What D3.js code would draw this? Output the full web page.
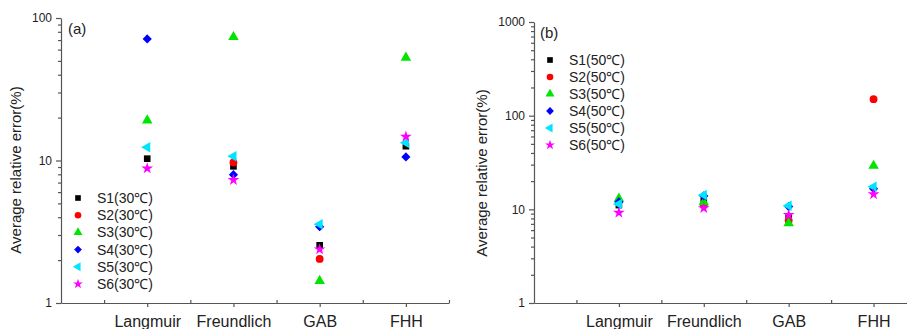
<!DOCTYPE html>
<html>
<head>
<meta charset="utf-8">
<script src="https://cdn.jsdelivr.net/npm/d3@7/dist/d3.min.js"></script>
<style>
  body { margin: 0; background: #fff; }
  svg text { font-family: "Liberation Sans", Arial, sans-serif; fill: #222; }
  .axis path, .axis line { stroke: #555; stroke-width: 1.2; }
</style>
</head>
<body>
<svg id="chart" width="907" height="329"></svg>
<script>
// ---------------- data ----------------
var categories = ["Langmuir", "Freundlich", "GAB", "FHH"];
var seriesNames = ["S1", "S2", "S3", "S4", "S5", "S6"];
var seriesColors = ["#000000", "#ff0000", "#00e600", "#0000ff", "#00e5ff", "#ff00ff"];

// panel (a), 30 C  (null = hidden under another marker)
var a_S1 = [10.3, 9.1, 2.54, 12.6];
var a_S2 = [null, 9.7, 2.04, null];
var a_S3 = [19.1, 73.6, 1.43, 52.7];
var a_S4 = [71.3, 7.95, 3.43, 10.6];
var a_S5 = [12.4, 10.7, 3.57, 13.3];
var a_S6 = [8.8, 7.3, 2.38, 14.7];

// panel (b), 50 C
var b_S1 = [11.1, 12.3, 8.2, null];
var b_S2 = [null, 11.1, 7.6, 150];
var b_S3 = [13.0, 11.9, 7.1, 29.2];
var b_S4 = [12.0, 13.9, 10.7, 16.6];
var b_S5 = [11.4, 14.2, 10.9, 17.4];
var b_S6 = [9.2, 10.3, 8.7, 14.5];

var svg = d3.select("#chart");

// marker shapes
var symSq = d3.symbol().type(d3.symbolSquare).size(44);
var symCi = d3.symbol().type(d3.symbolCircle).size(48);
var symTr = d3.symbol().type(d3.symbolTriangle).size(48);
var symDi = d3.symbol().type(d3.symbolSquare).size(42);   // rotated 45
var symSt = d3.symbol().type(d3.symbolStar).size(42);
var shapes = [
  {p: symSq(), rot: 0},
  {p: symCi(), rot: 0},
  {p: symTr(), rot: 0},
  {p: symDi(), rot: 45},
  {p: symTr(), rot: -90},
  {p: symSt(), rot: 0}
];

function drawPanel(opt) {
  var g = svg.append("g");
  var x = d3.scaleLinear().domain([0, 4.5]).range([opt.x0, opt.x1]);
  var y = d3.scaleLog().domain(opt.ydom).range([303, opt.ytop]);

  // minor y ticks
  var minor = [];
  for (var dec = opt.ydom[0]; dec < opt.ydom[1]; dec *= 10) {
    for (var k = 2; k <= 9; k++) minor.push(dec * k);
  }
  var majors = [];
  for (var m = opt.ydom[0]; m <= opt.ydom[1]; m *= 10) majors.push(m);

  g.append("g").attr("class", "axis")
    .attr("transform", "translate(" + opt.x0 + ",0)")
    .call(d3.axisLeft(y).tickValues(minor).tickSize(3).tickFormat(""))
    .select(".domain").remove();

  var ya = g.append("g").attr("class", "axis")
    .attr("transform", "translate(" + opt.x0 + ",0)")
    .call(d3.axisLeft(y).tickValues(majors).tickSize(5).tickSizeOuter(0).tickPadding(4)
      .tickFormat(d3.format("d")));
  ya.selectAll("text").attr("font-size", 12).style("fill", "#222");

  // x axis: minor ticks up, categories down
  g.append("g").attr("class", "axis")
    .attr("transform", "translate(0,303)")
    .call(d3.axisBottom(x).tickValues([0.5, 1.5, 2.5, 3.5, 4.5]).tickSize(-3).tickFormat(""))
    .select(".domain").remove();

  var xa = g.append("g").attr("class", "axis")
    .attr("transform", "translate(0,303)")
    .call(d3.axisBottom(x).tickValues([1, 2, 3, 4]).tickSize(4).tickSizeOuter(0)
      .tickFormat(function(d) { return categories[d - 1]; }));
  xa.selectAll("text").attr("font-size", 16).attr("y", 24).attr("dy", null).style("fill", "#222");

  // y title
  g.append("text")
    .attr("transform", "translate(" + opt.titleX + "," + opt.titleY + ") rotate(-90)")
    .attr("text-anchor", "middle")
    .attr("font-size", 15)
    .text("Average relative error(%)");

  // panel tag
  g.append("text").attr("x", opt.tagX).attr("y", opt.tagY)
    .attr("font-size", 15).text(opt.tag);

  // points
  opt.series.forEach(function(vals, si) {
    vals.forEach(function(v, ci) {
      if (v == null) return;
      g.append("path")
        .attr("d", shapes[si].p)
        .attr("transform", "translate(" + x(ci + 1) + "," + y(v) + ") rotate(" + shapes[si].rot + ")")
        .attr("fill", seriesColors[si]);
    });
  });

  // legend
  seriesNames.forEach(function(name, si) {
    var ly = opt.legY + si * opt.legStep;
    g.append("path")
      .attr("d", shapes[si].p)
      .attr("transform", "translate(" + opt.legX + "," + ly + ") rotate(" + shapes[si].rot + ") scale(0.85)")
      .attr("fill", seriesColors[si]);
    g.append("text")
      .attr("x", opt.legX + 19).attr("y", ly + 5)
      .attr("font-size", 14)
      .text(name + "(" + opt.temp + "\u2103)");
  });
}

drawPanel({
  x0: 61, x1: 449, ydom: [1, 100], ytop: 18,
  titleX: 21, titleY: 170, tag: "(a)", tagX: 68, tagY: 34,
  series: [a_S1, a_S2, a_S3, a_S4, a_S5, a_S6],
  legX: 78, legY: 198, legStep: 17.2, temp: "30"
});

drawPanel({
  x0: 534, x1: 916, ydom: [1, 1000], ytop: 22,
  titleX: 487, titleY: 173, tag: "(b)", tagX: 540, tagY: 38,
  series: [b_S1, b_S2, b_S3, b_S4, b_S5, b_S6],
  legX: 550, legY: 60, legStep: 17, temp: "50"
});
</script>
</body>
</html>
